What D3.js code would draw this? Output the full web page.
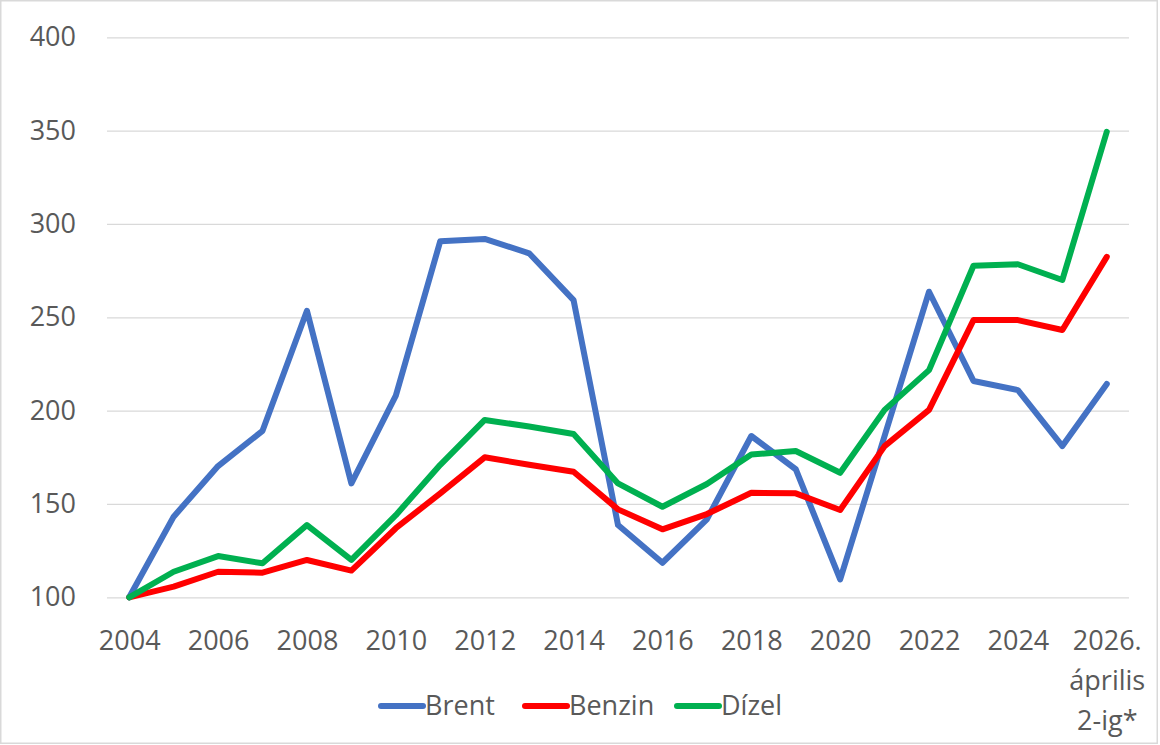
<!DOCTYPE html>
<html>
<head>
<meta charset="utf-8">
<script src="https://cdn.jsdelivr.net/npm/d3@7"></script>
<style>
  html, body { margin: 0; padding: 0; background: #fff; }
  svg text { font-family: "Open Sans", "Noto Sans", sans-serif; fill: #595959; }
</style>
</head>
<body>
<svg id="chart" width="1160" height="745"></svg>
<script>
const years = ["2004","2005","2006","2007","2008","2009","2010","2011","2012","2013","2014","2015","2016","2017","2018","2019","2020","2021","2022","2023","2024","2025","2026"];
const tickYears = ["2004","2006","2008","2010","2012","2014","2016","2018","2020","2022","2024","2026"];
const lastTickLabel = ["2026.", "április", "2-ig*"];
const yTicks = [100, 150, 200, 250, 300, 350, 400];

const seriesNames = ["Brent", "Benzin", "Dízel"];
const brent  = [100,143.2,170.3,189.2,253.5,161,208,290.8,292,284.3,259.2,138.7,118.5,141.8,186.4,168.6,109.6,186.5,263.7,215.9,211,181,214.3];
const benzin = [100,105.7,113.7,113.2,120,114.3,137,155.7,175,171,167.3,147.1,136.4,144.6,156,155.7,146.8,181,200.4,248.5,248.5,243.2,282.4];
const dizel  = [100,113.7,122.1,118.2,138.7,120,144,171,195,191.5,187.5,161,148.5,160.7,176.5,178.4,166.7,200.4,221.7,277.6,278.4,270,349.4];
const colors = ["#4472C4", "#FF0000", "#00B050"];

const svg = d3.select("#chart");
const plotLeft = 107, plotRight = 1129, plotTop = 37.3, plotBottom = 597.3;
const fontSize = 27;

// outer border
svg.append("rect").attr("x", 0.75).attr("y", 0.75).attr("width", 1156.5).attr("height", 742.5)
  .attr("fill", "#fff").attr("stroke", "#d9d9d9").attr("stroke-width", 1.5);

const x = d3.scalePoint().domain(years).range([plotLeft, plotRight]).padding(0.5);
const y = d3.scaleLinear().domain([100, 400]).range([plotBottom, plotTop]);

// y axis with gridlines
const yAxis = svg.append("g").attr("transform", `translate(${plotLeft},0)`)
  .call(d3.axisLeft(y).tickValues(yTicks).tickSizeInner(-(plotRight - plotLeft)).tickSizeOuter(0).tickPadding(31));
yAxis.select(".domain").remove();
yAxis.selectAll(".tick line").attr("stroke", "#d9d9d9").attr("stroke-width", 1.3);
yAxis.selectAll(".tick text").style("font-size", fontSize + "px").attr("fill", "#595959");

// x axis
const xAxis = svg.append("g").attr("transform", `translate(0,${plotBottom})`)
  .call(d3.axisBottom(x).tickValues(tickYears).tickSize(0).tickPadding(33.7));
xAxis.select(".domain").remove();
xAxis.selectAll(".tick text").style("font-size", fontSize + "px").attr("fill", "#595959");
xAxis.selectAll(".tick text").filter(d => d === "2026").each(function() {
  const t = d3.select(this);
  const baseY = 33.7 + 0.71 * fontSize;
  t.text(null).attr("dy", null).attr("y", null);
  lastTickLabel.forEach((s, i) => {
    t.append("tspan").attr("x", 0).attr("y", baseY + i * 40).text(s);
  });
});

// lines
const line = d3.line().x((d, i) => x(years[i])).y(d => y(d));
[brent, benzin, dizel].forEach((vals, k) => {
  svg.append("path").datum(vals).attr("d", line)
    .attr("fill", "none").attr("stroke", colors[k]).attr("stroke-width", 6)
    .attr("stroke-linejoin", "round").attr("stroke-linecap", "round");
});

// legend
const legendX = [381, 525, 677];
const legendY = 706;
seriesNames.forEach((name, k) => {
  const g = svg.append("g");
  g.append("line").attr("x1", legendX[k]).attr("x2", legendX[k] + 42)
    .attr("y1", legendY).attr("y2", legendY)
    .attr("stroke", colors[k]).attr("stroke-width", 6).attr("stroke-linecap", "round");
  g.append("text").attr("x", legendX[k] + 44).attr("y", legendY + 8.5)
    .style("font-size", fontSize + "px").attr("fill", "#595959").text(name);
});
</script>
</body>
</html>
